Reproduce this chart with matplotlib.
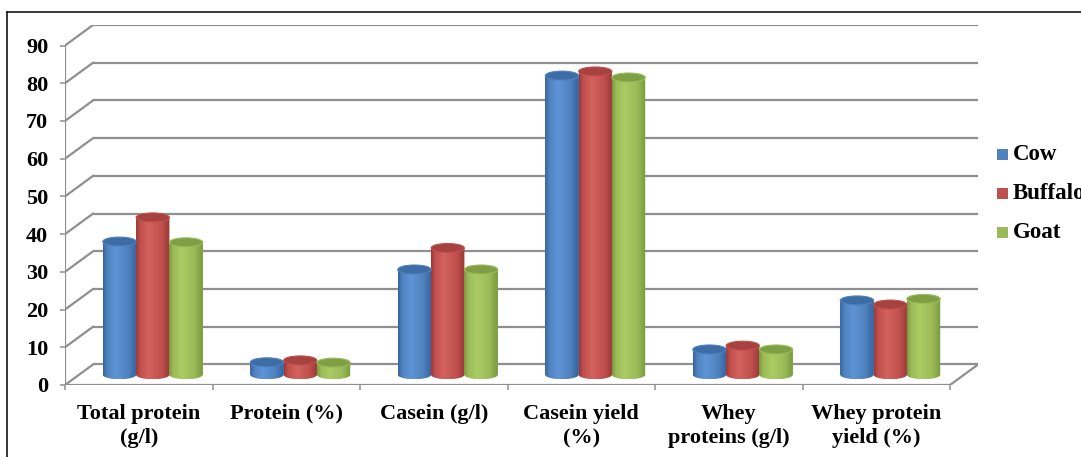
import numpy as np
import matplotlib.pyplot as plt
from matplotlib.patches import Ellipse, PathPatch, Rectangle
from matplotlib.path import Path
from matplotlib.colors import LinearSegmentedColormap
from matplotlib.lines import Line2D

# ── Data ───────────────────────────────────────────────────────────────────
categories = ["Total protein\n(g/l)", "Protein (%)", "Casein (g/l)",
              "Casein yield\n(%)", "Whey\nproteins (g/l)", "Whey protein\nyield (%)"]
series = ["Cow", "Buffalo", "Goat"]
cow     = [35.3, 3.3, 27.9, 79.3, 6.7, 19.7]
buffalo = [41.7, 3.8, 33.6, 80.4, 7.7, 18.6]
goat    = [35.1, 3.2, 27.9, 78.8, 6.7, 20.1]
values = [cow, buffalo, goat]
yticks = list(range(0, 91, 10))

# ── Style ──────────────────────────────────────────────────────────────────
BASE  = ["#4F81BD", "#C0504D", "#9BBB59"]
DARK  = ["#34629E", "#973835", "#789A3C"]
LIGHT = ["#5E95D8", "#D4625E", "#ABCB63"]
TOP   = ["#3E6CA7", "#A6423F", "#7F9F45"]
GRID  = "#8f8f8f"
FONT  = "Liberation Serif"
FS    = 16
FS_LEG = 16.5

plt.rcParams.update({"font.family": FONT, "font.weight": "bold"})

W, H = 1081, 457
fig = plt.figure(figsize=(W / 100, H / 100), dpi=100, facecolor="white")

# axes sized so that data units map onto the front plane + depth offset
DX, DY = 28 / 147.5, 20.5 / 3.772          # depth offset in data units
ax = fig.add_axes([65 / W, (H - 385) / H, 913 / W, 360 / H])
ax.set_facecolor("none")
for s in ax.spines.values():
    s.set_visible(False)

n = len(categories)

# back wall gridlines and side-wall diagonals
for v in yticks:
    ax.plot([DX, n + DX], [v + DY, v + DY], color=GRID, lw=1.6, zorder=1,
            solid_capstyle="butt")
    ax.plot([0, DX], [v, v + DY], color=GRID, lw=1.6, zorder=1)
# front axis lines and floor edge
ax.plot([0, 0], [0, yticks[-1]], color=GRID, lw=1.6, zorder=2)
ax.plot([0, n], [0, 0], color=GRID, lw=1.6, zorder=2)
ax.plot([n, n + DX], [0, DY], color=GRID, lw=1.6, zorder=2)

# ── Cylinders ──────────────────────────────────────────────────────────────
bw = 33.3 / 147.5
eh = 9 / 3.772
base = DY / 2
x = np.arange(n) + 0.5 + DX / 2
t = np.linspace(np.pi, 2 * np.pi, 40)

for j, vals in enumerate(values):
    cmap = LinearSegmentedColormap.from_list(
        f"cyl{j}", [(0, DARK[j]), (0.12, BASE[j]), (0.38, LIGHT[j]),
                    (0.75, BASE[j]), (1, DARK[j])])
    xs = x + (j - 1) * bw
    bars = ax.bar(xs, vals, width=bw, bottom=base, color=BASE[j],
                  zorder=3, label=series[j])
    for bar, cx, v in zip(bars, xs, vals):
        x0, x1 = cx - bw / 2, cx + bw / 2
        top = base + v
        arc = np.column_stack([cx + bw / 2 * np.cos(t), base + eh / 2 * np.sin(t)])
        verts = np.vstack([[x0, top], arc, [x1, top], [x0, top]])
        codes = [Path.MOVETO] + [Path.LINETO] * (len(verts) - 2) + [Path.CLOSEPOLY]
        clip = PathPatch(Path(verts, codes), transform=ax.transData,
                         facecolor="none", edgecolor="none")
        ax.add_patch(clip)
        im = ax.imshow(np.linspace(0, 1, 256).reshape(1, -1), cmap=cmap,
                       extent=(x0, x1, base - eh / 2, top), aspect="auto",
                       interpolation="bilinear", zorder=4)
        im.set_clip_path(clip)
        ax.add_patch(Ellipse((cx, top), bw, eh, facecolor=TOP[j],
                             edgecolor=BASE[j], lw=0.8, zorder=5))

ax.set_xlim(0, n + DX)
ax.set_ylim(0, yticks[-1] + DY)

# ── Ticks ──────────────────────────────────────────────────────────────────
ax.set_yticks(yticks)
ax.set_yticklabels([str(v) for v in yticks], fontsize=FS, fontweight="bold")
ax.tick_params(axis="y", direction="out", length=3.6, width=1.1, color=GRID, pad=8.5)
ax.set_xticks(np.arange(n + 1))
ax.set_xticklabels([])
ax.tick_params(axis="x", which="major", direction="out", length=3.6, width=1.1,
               color=GRID)
ax.set_xticks(np.arange(n) + 0.5, minor=True)
ax.set_xticklabels(categories, minor=True, fontsize=FS, fontweight="bold",
                   linespacing=1.3)
ax.tick_params(axis="x", which="minor", length=0, pad=13.5)

# ── Legend ─────────────────────────────────────────────────────────────────
for j, name in enumerate(series):
    yc = 154 + j * 39.3
    fig.patches.append(Rectangle((997 / W, 1 - (yc + 5.5) / H), 11 / W, 11 / H,
                                 transform=fig.transFigure, facecolor=BASE[j],
                                 edgecolor="none"))
    fig.text(1013 / W, 1 - yc / H, name, fontsize=FS_LEG, fontweight="bold",
             va="center", ha="left")

# ── Outer frame ────────────────────────────────────────────────────────────
fig.add_artist(Line2D([7 / W, 7 / W], [0, 1 - 12 / H], color="black", lw=1.1,
                      transform=fig.transFigure))
fig.add_artist(Line2D([7 / W, 1], [1 - 12 / H, 1 - 12 / H], color="black", lw=1.1,
                      transform=fig.transFigure))

fig.savefig("out.png", dpi=100, facecolor="white")
